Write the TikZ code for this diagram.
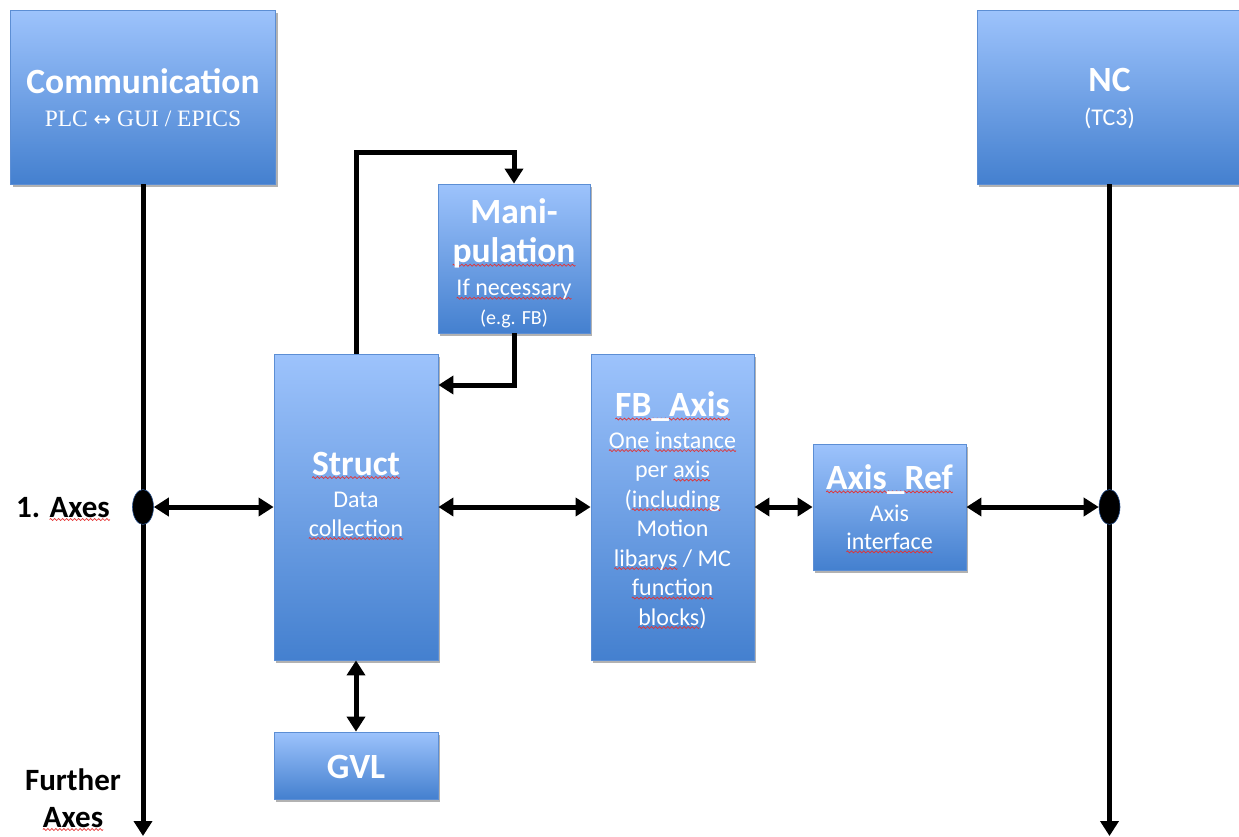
\documentclass[tikz,border=0pt]{standalone}
\usepackage{fontspec}
\setmainfont{Carlito}
\newfontfamily\cambriaish{Liberation Serif}
\newfontfamily\arrowglyph{DejaVu Sans}
\usetikzlibrary{arrows.meta,shadows,shapes.geometric}

\definecolor{boxtop}{RGB}{157,195,252}
\definecolor{boxbot}{RGB}{68,128,207}
\definecolor{boxedge}{RGB}{92,142,212}
\definecolor{squig}{RGB}{228,50,50}
\definecolor{dotedge}{RGB}{40,80,140}

% one period of the red proofing wave, repeated under marked words
\newsavebox\wavebit
\sbox\wavebit{\tikz{\useasboundingbox (0,-1.5pt) rectangle (4pt,1.5pt);
  \draw[squig, line width=0.7pt] (0,0) sin (1pt,1pt) cos (2pt,0) sin (3pt,-1pt) cos (4pt,0);}}
\newlength\spellwd
\newcommand\spellmark[1]{\settowidth\spellwd{#1}\leavevmode
  \rlap{\raisebox{-4pt}[0pt][0pt]{\hbox to\spellwd{\xleaders\copy\wavebit\hfil}}}#1}
\newcommand\boxtitle{\fontsize{35.5}{40}\selectfont\bfseries}

\tikzset{
  blk/.style={draw=boxedge, line width=0.8pt, top color=boxtop, bottom color=boxbot,
    inner sep=0pt,
    drop shadow={shadow xshift=2pt, shadow yshift=-2.5pt, opacity=0.3, fill=black}},
  boxtext/.style={text=white, align=center, inner sep=0pt},
  link/.style={line width=5pt, draw=black},
  tip/.style={-{Triangle[length=15pt,width=18pt]}},
  both/.style={{Triangle[length=15pt,width=18pt]}-{Triangle[length=15pt,width=18pt]}},
  joint/.style={ellipse, fill=black, draw=dotedge, line width=0.6pt, inner sep=0pt,
    minimum width=21pt, minimum height=35pt},
  sidelabel/.style={font=\fontsize{31}{37}\selectfont\bfseries, text=black, inner sep=0pt, align=center}
}

\begin{document}
\begin{tikzpicture}[x=1pt,y=-1pt]
\useasboundingbox (0,0) rectangle (1239,836);

% blocks
\node[blk, minimum width=265pt, minimum height=174pt] (comm) at (143,97) {};
\node[blk, minimum width=265pt, minimum height=174pt] (nc) at (1109.5,97) {};
\node[blk, minimum width=152pt, minimum height=149pt] (manip) at (514,258.5) {};
\node[blk, minimum width=164pt, minimum height=306pt] (struct) at (356,507) {};
\node[blk, minimum width=163pt, minimum height=306pt] (fb) at (672.5,507) {};
\node[blk, minimum width=153pt, minimum height=126pt] (aref) at (889.5,507) {};
\node[blk, minimum width=164pt, minimum height=67pt] (gvl) at (356,765.5) {};

% block captions
\node[boxtext, font=\fontsize{23.5}{33}\selectfont] (comm-t) at ([yshift=-1pt]comm.center)
  {{\boxtitle Communication}\\{\cambriaish PLC {\arrowglyph\fontsize{21}{21}\selectfont ↔} GUI / EPICS}};
\node[boxtext, font=\fontsize{24}{34}\selectfont] (nc-t) at ([yshift=-2pt]nc.center)
  {{\boxtitle NC}\\(TC3)};
\node[boxtext, font=\fontsize{24}{30}\selectfont] (manip-t) at ([yshift=-5pt]manip.center)
  {{\boxtitle Mani-}\\[9pt]{\boxtitle \spellmark{pulation}}\\[3pt]\spellmark{If necessary}\\[-1pt]{\fontsize{20}{24}\selectfont (e.g. FB)}};
\node[boxtext, font=\fontsize{24}{29}\selectfont] (struct-t) at ([yshift=13pt]struct.center)
  {{\boxtitle \spellmark{Struct}}\\[3pt]Data\\\spellmark{collection}};
\node[boxtext, font=\fontsize{24}{29.5}\selectfont] (fb-t) at ([yshift=-3pt]fb.center)
  {{\boxtitle \spellmark{FB\_Axis}}\\[2pt]\spellmark{One} \spellmark{instance}\\per \spellmark{axis}\\(\spellmark{including}\\Motion\\\spellmark{libarys} / MC\\\spellmark{function}\\\spellmark{blocks})};
\node[boxtext, font=\fontsize{24}{28}\selectfont] (aref-t) at ([yshift=0pt]aref.center)
  {{\boxtitle \spellmark{Axis\_Ref}}\\[4pt]Axis\\\spellmark{interface}};
\node[boxtext] (gvl-t) at ([yshift=-1pt]gvl.center) {\boxtitle GVL};

% bus end points
\coordinate (lbot) at (143,836);
\coordinate (rbot) at (1109.5,836);

% vertical buses
\draw[link, tip] (comm.south) -- (lbot);
\draw[link, tip] (nc.south) -- (rbot);

% joints on the buses
\node[joint] (j1) at (comm.south |- struct.center) {};
\node[joint] (j2) at (nc.south |- struct.center) {};

% horizontal links
\draw[link, both] (j1) -- (struct);
\draw[link, both] (struct) -- (fb);
\draw[link, both] (fb) -- (aref);
\draw[link, both] (aref) -- (j2);
\draw[link, both] (struct) -- (gvl);

% manipulation loop
\draw[link, tip] (struct.north) -- ++(0,-201) -| (manip.north);
\draw[link, tip] (manip.south) |- (struct.east |- 0,385);

% side labels
\node[sidelabel, anchor=base west] (ax1) at (16,517) {1. \spellmark{Axes}};
\node[sidelabel, anchor=base] (ax2) at (73,827) {Further\\\spellmark{Axes}};
\end{tikzpicture}
\end{document}
